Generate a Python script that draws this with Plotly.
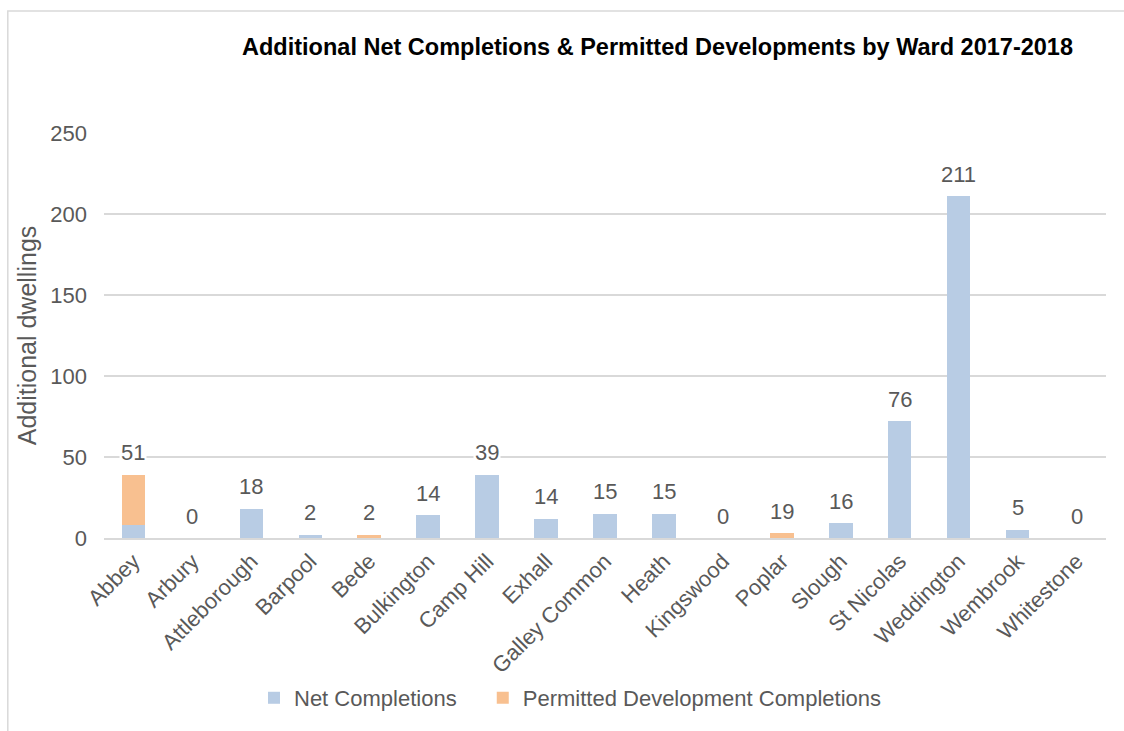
import plotly.graph_objects as go

wards = ["Abbey", "Arbury", "Attleborough", "Barpool", "Bede", "Bulkington",
         "Camp Hill", "Exhall", "Galley Common", "Heath", "Kingswood", "Poplar",
         "Slough", "St Nicolas", "Weddington", "Wembrook", "Whitestone"]
net_completions = [8, 0, 18, 2, 0, 14, 39, 12, 15, 15, 0, 0, 9, 72, 211, 5, 0]
pd_completions = [31, 0, 0, 0, 2, 0, 0, 0, 0, 0, 0, 3, 0, 0, 0, 0, 0]
data_labels = [51, 0, 18, 2, 2, 14, 39, 14, 15, 15, 0, 19, 16, 76, 211, 5, 0]
y_ticks = [0, 50, 100, 150, 200, 250]

FONT = "Liberation Sans"
GREY = "#595959"

fig = go.Figure()
fig.add_trace(go.Bar(x=wards, y=net_completions, name="Net Completions",
                     marker=dict(color="#B8CCE4", line=dict(width=0)), legend="legend"))
fig.add_trace(go.Bar(x=wards, y=pd_completions, name="Permitted Development Completions",
                     marker=dict(color="#F8C090", line=dict(width=0)), legend="legend2"))

totals = [a + b for a, b in zip(net_completions, pd_completions)]
for w, t, lab in zip(wards, totals, data_labels):
    fig.add_annotation(x=w, y=t, text=str(lab), showarrow=False,
                       yanchor="middle", yshift=22, bgcolor="white",
                       font=dict(family=FONT, size=22, color=GREY))

legend_style = dict(orientation="h", xanchor="left", y=-0.395, yanchor="middle",
                    font=dict(family=FONT, size=22, color=GREY), bgcolor="rgba(0,0,0,0)")

fig.update_layout(
    width=1124, height=731,
    margin=dict(l=104, r=18, t=133, b=193),
    paper_bgcolor="white", plot_bgcolor="white",
    barmode="stack", bargap=0.6,
    font=dict(family=FONT, size=20, color=GREY),
    title=dict(text="<b>Additional Net Completions & Permitted Developments by Ward 2017-2018</b>",
               x=0.585, xanchor="center", y=0.936, yanchor="middle",
               font=dict(family=FONT, size=23.5, color="black")),
    xaxis=dict(tickangle=-45, showgrid=False, showline=True, linecolor="#D9D9D9",
               linewidth=1.5, ticks="", tickfont=dict(family=FONT, size=22, color=GREY)),
    yaxis=dict(range=[0, 250], tickvals=y_ticks, showgrid=True, gridcolor="#D9D9D9",
               gridwidth=1.5, zeroline=False, showline=False, ticks="",
               ticklabelstandoff=16,
               tickfont=dict(family=FONT, size=22, color=GREY),
               title=dict(text="Additional dwellings", standoff=6,
                          font=dict(family=FONT, size=25, color=GREY))),
    legend=dict(x=0.1497, **legend_style),
    legend2=dict(x=0.378, **legend_style),
    showlegend=True,
)

fig.add_shape(type="rect", xref="paper", yref="paper",
              x0=-0.096, x1=1.5, y0=-0.6, y1=1.301,
              line=dict(color="#D9D9D9", width=1.5), fillcolor="rgba(0,0,0,0)", layer="below")

fig.write_html("out.html")
